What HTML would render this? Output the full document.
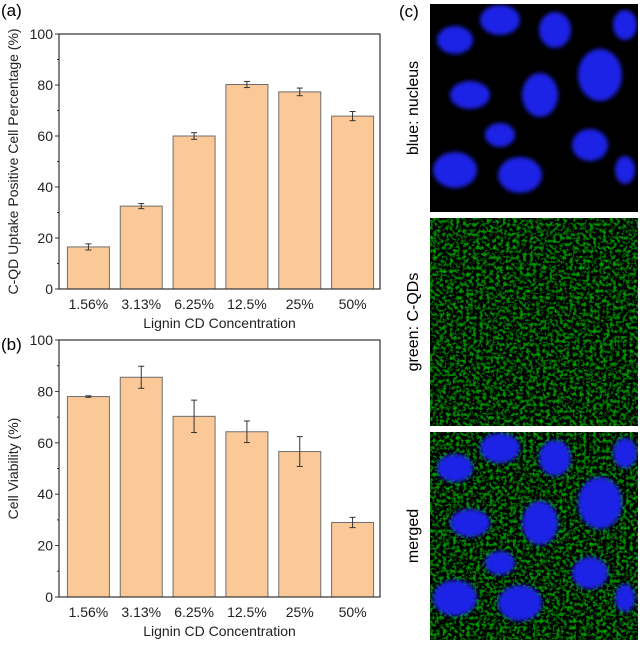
<!DOCTYPE html>
<html><head><meta charset="utf-8"><style>
body{margin:0;background:#fff;width:640px;height:640px;overflow:hidden;font-family:"Liberation Sans",sans-serif}
</style></head><body>
<svg id="fig" width="640" height="640" xmlns="http://www.w3.org/2000/svg" font-family="Liberation Sans, sans-serif">
<defs>
<filter id="blur"><feGaussianBlur stdDeviation="2"/></filter>
<filter id="noise"><feTurbulence type="fractalNoise" baseFrequency="0.3" numOctaves="3" seed="3"/><feColorMatrix type="matrix" values="0 0 0 0 0  0 2.2 0 0 -1.05  0 0 0 0 0  0 0 0 0 1"/></filter>
<clipPath id="c1"><rect x="430" y="4" width="208" height="208"/></clipPath>
<clipPath id="c2"><rect x="430" y="218" width="208" height="208"/></clipPath>
<clipPath id="c3"><rect x="430" y="432" width="208" height="208"/></clipPath>
</defs>
<g id="chartA"></g>
<g id="chartB"></g>
<g id="micro"></g>
<text x="1" y="16" font-size="17" fill="#000">(a)</text>
<text x="1" y="350" font-size="17" fill="#000">(b)</text>
<text x="399" y="17" font-size="17" fill="#000">(c)</text>
</svg>
<script>
const categories=["1.56%","3.13%","6.25%","12.5%","25%","50%"];
const uptakeValues=[16.5,32.5,60,80.2,77.3,67.8];
const uptakeErrors=[1.2,1.0,1.3,1.2,1.5,1.8];
const viabilityValues=[78,85.5,70.3,64.3,56.6,29];
const viabilityErrors=[0.3,4.3,6.3,4.2,5.8,2.0];
const yTicks=[0,20,40,60,80,100];
const NS="http://www.w3.org/2000/svg";
function mk(parent,tag,attrs){const e=document.createElementNS(NS,tag);for(const k in attrs)e.setAttribute(k,attrs[k]);parent.appendChild(e);return e;}
function drawChart(g,top,bottom,vals,errs,ytitle,prefix){
  const L=59,R=380,band0=62,band1=379;
  const y=v=>bottom-(v/100)*(bottom-top);
  const bw=(band1-band0)/categories.length;
  const x=i=>band0+bw*(i+0.5);
  vals.forEach((v,i)=>{
    const r=mk(g,"rect",{x:x(i)-21,y:y(v),width:42,height:bottom-y(v),fill:"#fbc897",stroke:"#6e6e6e","stroke-width":1});
    
    
    const e=errs[i],eg=mk(g,"g",{stroke:"#333","stroke-width":1});
    
    
    mk(eg,"line",{x1:x(i),x2:x(i),y1:y(v+e),y2:y(v-e)});
    mk(eg,"line",{x1:x(i)-3,x2:x(i)+3,y1:y(v+e),y2:y(v+e)});
    mk(eg,"line",{x1:x(i)-3,x2:x(i)+3,y1:y(v-e),y2:y(v-e)});
    const t=mk(g,"text",{x:x(i),y:bottom+20,"font-size":14,"text-anchor":"middle",fill:"#222"});
    t.textContent=categories[i];
    
    
  });
  const f=mk(g,"rect",{x:L,y:top,width:R-L,height:bottom-top,fill:"none",stroke:"#333","stroke-width":1.2});
  
  
  yTicks.forEach(v=>{
    mk(g,"line",{x1:L-4,x2:L,y1:y(v),y2:y(v),stroke:"#333"});
    if(v<100)mk(g,"line",{x1:L-2,x2:L,y1:y(v+10),y2:y(v+10),stroke:"#333"});
    const t=mk(g,"text",{x:L-6,y:y(v)+5,"font-size":14,"text-anchor":"end",fill:"#222"});
    t.textContent=v;
    
    
  });
  const xt=mk(g,"text",{x:(L+R)/2,y:bottom+39,"font-size":14,"text-anchor":"middle",fill:"#222"});
  xt.textContent="Lignin CD Concentration";
  
  
  const yt=mk(g,"text",{transform:`translate(18,${(top+bottom)/2}) rotate(-90)`,"font-size":14,"text-anchor":"middle",fill:"#222"});
  yt.textContent=ytitle;
  
  
}
drawChart(document.getElementById("chartA"),34,289,uptakeValues,uptakeErrors,"C-QD Uptake Positive Cell Percentage (%)","a");
drawChart(document.getElementById("chartB"),340,597,viabilityValues,viabilityErrors,"Cell Viability (%)","b");

const m=document.getElementById("micro");
const nuclei=[[455,40,18,14],[500,20,20,15],[555,30,16,18],[600,75,22,26],[470,95,20,14],[540,95,18,22],[590,145,18,16],[455,170,22,18],[520,175,22,18],[625,25,12,15],[500,135,15,12],[625,170,10,14]];
const labels=["blue: nucleus","green: C-QDs","merged"];
[0,1,2].forEach(p=>{
  const top=4+p*214;
  const g=mk(m,"g",{"clip-path":`url(#c${p+1})`});
  
  
  mk(g,"rect",{x:430,y:top,width:208,height:208,fill:"#000"});
  if(p>0){mk(g,"rect",{x:430,y:top,width:208,height:208,filter:"url(#noise)",opacity:0.75});}
  if(p!=1){
    nuclei.forEach(n=>{mk(g,"ellipse",{cx:n[0],cy:n[1]-4+top,rx:n[2],ry:n[3],fill:"#1a24e6",filter:"url(#blur)"});});
  }
  const t=mk(m,"text",{transform:`translate(418,${top+104}) rotate(-90)`,"font-size":16,"text-anchor":"middle",fill:"#000"});
  t.textContent=labels[p];
  
  
});
</script>
</body></html>
